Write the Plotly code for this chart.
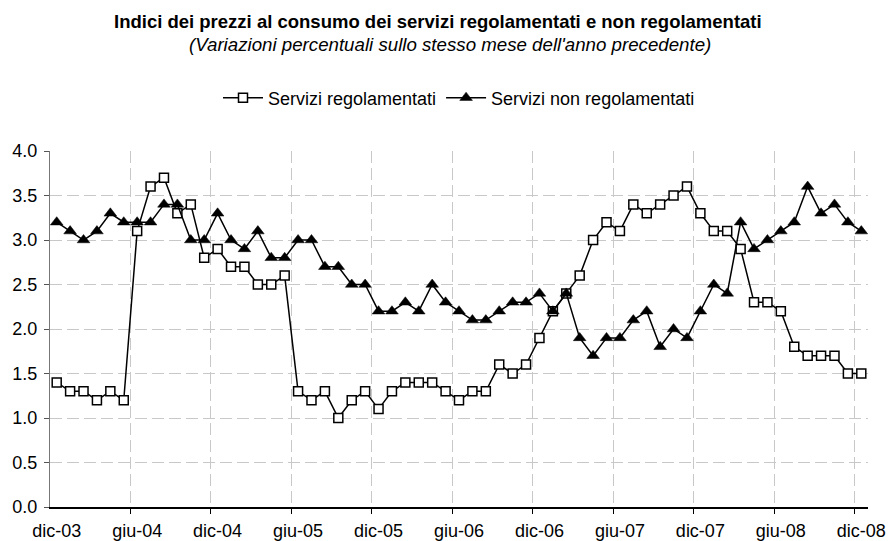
import plotly.graph_objects as go

# ---- data ----
mesi = ["gen", "feb", "mar", "apr", "mag", "giu", "lug", "ago", "set", "ott", "nov", "dic"]
anni = ["03", "04", "05", "06", "07", "08"]
months = ["dic-03"] + [f"{m}-{a}" for a in anni[1:] for m in mesi]

servizi_regolamentati = [
    1.4, 1.3, 1.3, 1.2, 1.3, 1.2, 3.1, 3.6, 3.7, 3.3, 3.4, 2.8,
    2.9, 2.7, 2.7, 2.5, 2.5, 2.6, 1.3, 1.2, 1.3, 1.0, 1.2, 1.3,
    1.1, 1.3, 1.4, 1.4, 1.4, 1.3, 1.2, 1.3, 1.3, 1.6, 1.5, 1.6,
    1.9, 2.2, 2.4, 2.6, 3.0, 3.2, 3.1, 3.4, 3.3, 3.4, 3.5, 3.6,
    3.3, 3.1, 3.1, 2.9, 2.3, 2.3, 2.2, 1.8, 1.7, 1.7, 1.7, 1.5,
    1.5,
]
servizi_non_regolamentati = [
    3.2, 3.1, 3.0, 3.1, 3.3, 3.2, 3.2, 3.2, 3.4, 3.4, 3.0, 3.0,
    3.3, 3.0, 2.9, 3.1, 2.8, 2.8, 3.0, 3.0, 2.7, 2.7, 2.5, 2.5,
    2.2, 2.2, 2.3, 2.2, 2.5, 2.3, 2.2, 2.1, 2.1, 2.2, 2.3, 2.3,
    2.4, 2.2, 2.4, 1.9, 1.7, 1.9, 1.9, 2.1, 2.2, 1.8, 2.0, 1.9,
    2.2, 2.5, 2.4, 3.2, 2.9, 3.0, 3.1, 3.2, 3.6, 3.3, 3.4, 3.2,
    3.1,
]
tick_labels = months[::6]

x = list(range(len(months)))
tick_pos = x[::6]
grid_pos = [p + 5.5 for p in tick_pos[:-1]]

FONT = "Liberation Sans, Arial, sans-serif"

fig = go.Figure()
fig.add_trace(go.Scatter(
    x=x, y=servizi_regolamentati, mode="lines+markers", name="Servizi regolamentati",
    customdata=months,
    line=dict(color="black", width=1.5),
    marker=dict(symbol="square", size=9, color="white", line=dict(color="black", width=1.5)),
))
fig.add_trace(go.Scatter(
    x=x, y=servizi_non_regolamentati, mode="lines+markers", name="Servizi non regolamentati",
    customdata=months,
    line=dict(color="black", width=1.5),
    marker=dict(symbol="triangle-up", size=11, color="black", line=dict(color="black", width=0.5)),
))

fig.update_layout(
    width=888, height=541,
    margin=dict(l=50, r=20, t=151, b=34),
    plot_bgcolor="white", paper_bgcolor="white",
    font=dict(family=FONT, size=18, color="black"),
    showlegend=True,
    legend=dict(orientation="h", x=0.5, xanchor="center", y=1.149, yanchor="middle",
                font=dict(size=18), bgcolor="rgba(0,0,0,0)", itemwidth=40),
    xaxis=dict(
        range=[-0.5, 60.5], tickmode="array", tickvals=tick_pos, ticktext=tick_labels,
        showgrid=False, ticks="", showline=True, linecolor="black", linewidth=1.5,
        zeroline=False, tickfont=dict(size=18), ticklabelstandoff=7, automargin=False,
        minor=dict(tickmode="array", tickvals=grid_pos, showgrid=True, gridcolor="#c8c8c8",
                   griddash="12px,5px", gridwidth=1, ticks="outside", ticklen=5,
                   tickcolor="black", tickwidth=1),
    ),
    yaxis=dict(
        range=[0, 4], tick0=0, dtick=0.5, tickformat=".1f",
        showgrid=True, gridcolor="#c8c8c8", griddash="12px,5px", gridwidth=1,
        ticks="outside", ticklen=5, tickcolor="#555555",
        showline=True, linecolor="#777777", linewidth=1, zeroline=False,
        tickfont=dict(size=18), ticklabelstandoff=3, automargin=False,
    ),
    annotations=[
        dict(text="<b>Indici dei prezzi al consumo dei servizi regolamentati e non regolamentati</b>",
             x=0.4745, xref="paper", y=(507 - 21.5) / 356, yref="paper",
             xanchor="center", yanchor="middle",
             showarrow=False, font=dict(size=18.5)),
        dict(text="<i>(Variazioni percentuali sullo stesso mese dell'anno precedente)</i>",
             x=0.4895, xref="paper", y=(507 - 44.5) / 356, yref="paper",
             xanchor="center", yanchor="middle",
             showarrow=False, font=dict(size=18.7)),
    ],
)

fig.write_html(
    "out.html",
    config={"displayModeBar": False},
    post_script="document.body.style.margin='0';document.body.style.overflow='hidden';",
)
